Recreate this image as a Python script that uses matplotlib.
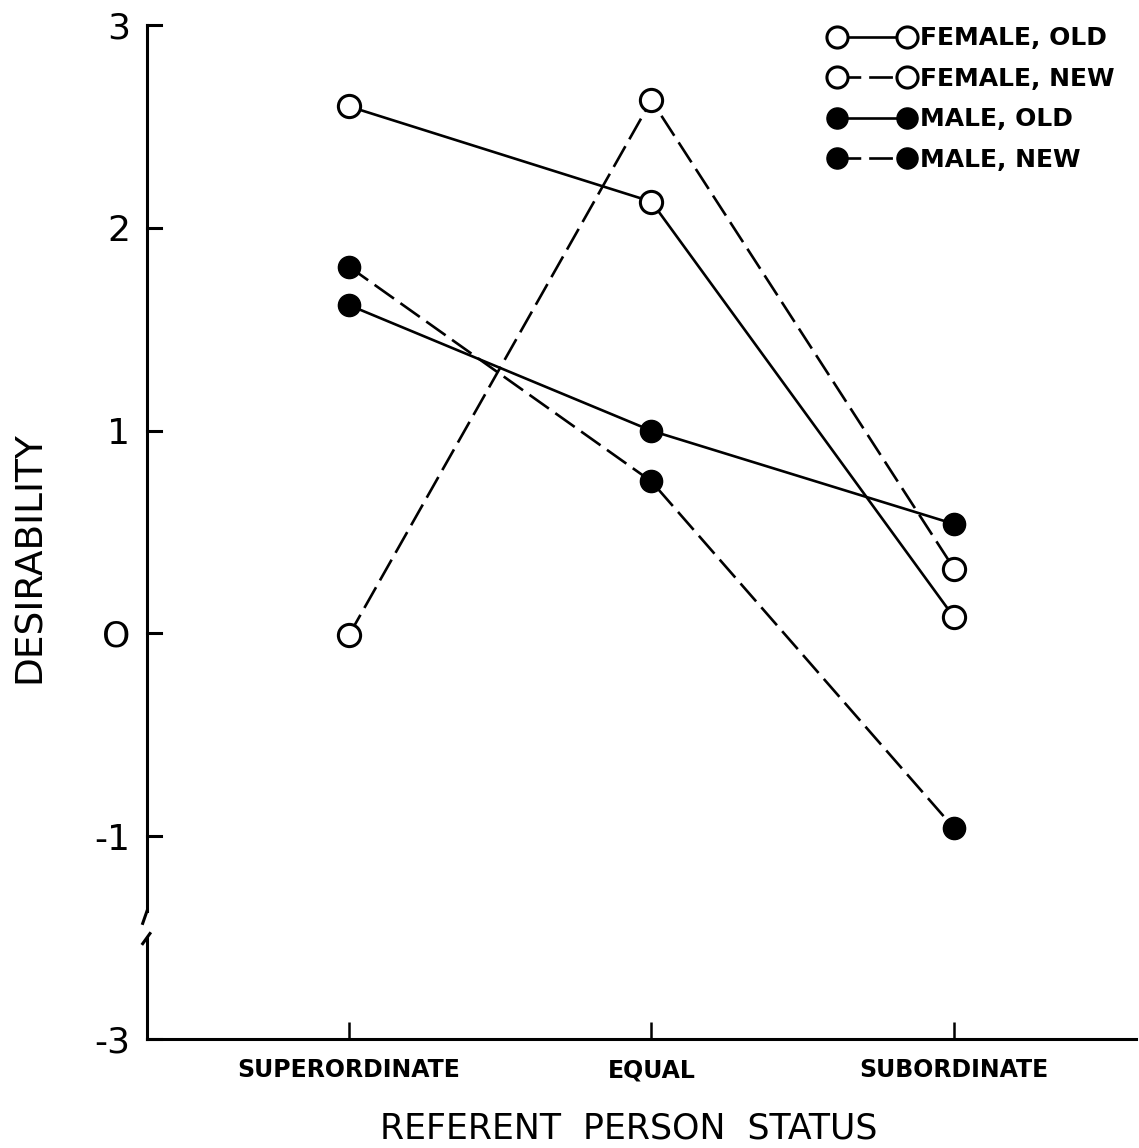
import matplotlib
matplotlib.use('Agg')
import matplotlib.pyplot as plt

categories = ['SUPERORDINATE', 'EQUAL', 'SUBORDINATE']
female_old = [2.60, 2.13, 0.08]
female_new = [-0.01, 2.63, 0.32]
male_old = [1.62, 1.00, 0.54]
male_new = [1.81, 0.75, -0.96]
ytick_vals = [3, 2, 1, 0, -1, -2]
ytick_labels = ['3', '2', '1', 'O', '-1', '-3']

fig = plt.figure(figsize=(11.39, 11.48), dpi=100)
ax = fig.add_axes([0.129, 0.095, 0.868, 0.883])

x = range(len(categories))
lw = 1.9
ms = 16
dash = (9, 3)

ax.plot(x, female_old, '-', color='black', lw=lw, marker='o', ms=ms,
        mfc='white', mec='black', mew=2.2, label='FEMALE, OLD', zorder=3)
ax.plot(x, female_new, '--', color='black', lw=lw, marker='o', ms=ms,
        mfc='white', mec='black', mew=2.2, dashes=dash, label='FEMALE, NEW', zorder=3)
ax.plot(x, male_old, '-', color='black', lw=lw, marker='o', ms=ms,
        mfc='black', mec='black', label='MALE, OLD', zorder=3)
ax.plot(x, male_new, '--', color='black', lw=lw, marker='o', ms=ms,
        mfc='black', mec='black', dashes=dash, label='MALE, NEW', zorder=3)

ax.set_xlim(-0.667, 2.6)
ax.set_ylim(-2, 3)

for s in ['top', 'right', 'left']:
    ax.spines[s].set_visible(False)
ax.spines['bottom'].set_linewidth(2.2)

# left axis drawn in two pieces with a break
ax.plot([-0.667, -0.667], [3, -1.37], color='black', lw=2.2, clip_on=False)
ax.plot([-0.667, -0.681], [-1.37, -1.43], color='black', lw=2.2, clip_on=False)
ax.plot([-0.681, -0.657], [-1.53, -1.48], color='black', lw=2.2, clip_on=False)
ax.plot([-0.667, -0.667], [-1.5, -2], color='black', lw=2.2, clip_on=False)

ax.set_yticks(ytick_vals)
ax.set_yticklabels(ytick_labels, fontsize=26)
ax.set_xticks(list(x))
ax.set_xticklabels(categories, fontsize=17, fontweight='bold')
ax.tick_params(axis='y', direction='in', length=12, width=2.2, pad=12, left=False)
ax.tick_params(axis='x', direction='in', length=12, width=1.8, pad=14)
for v in ytick_vals:
    ax.plot([-0.667, -0.62], [v, v], color='black', lw=2.2, clip_on=False)

ax.set_ylabel('DESIRABILITY', fontsize=27)
ax.yaxis.set_label_coords(-0.100, 0.475)
ax.set_xlabel('REFERENT  PERSON  STATUS', fontsize=25)
ax.xaxis.set_label_coords(0.4875, -0.072)

leg = ax.legend(loc='upper left', bbox_to_anchor=(0.690, 0.999), frameon=False,
                numpoints=2, handlelength=3.4, handletextpad=0.25,
                labelspacing=0.66, borderpad=0, borderaxespad=0,
                markerscale=0.95, prop={'size': 18, 'weight': 'bold'})

fig.savefig('out.png', dpi=100, facecolor='white')
